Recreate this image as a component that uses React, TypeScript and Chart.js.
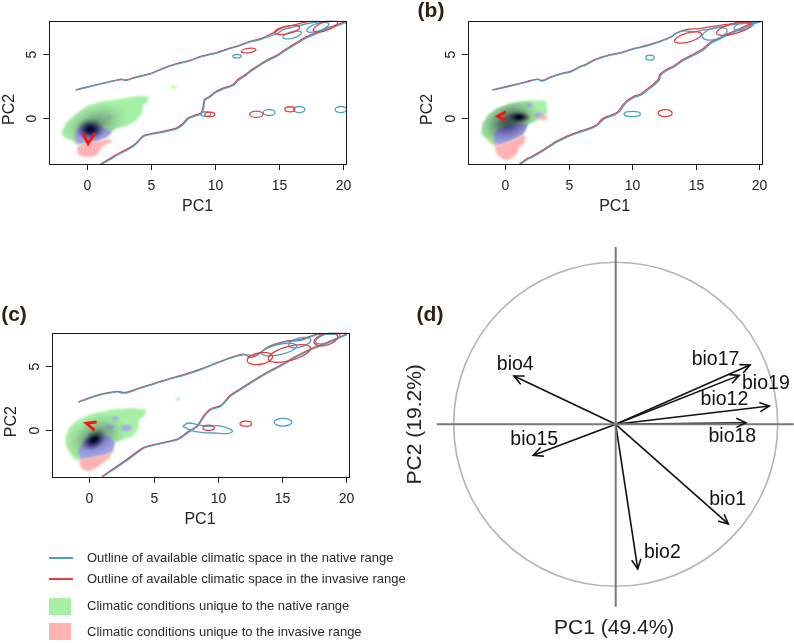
import React, { useEffect, useRef } from "react";
import { Chart, registerables } from "chart.js";

Chart.register(...registerables);

type Pt = [number, number];
// ellipse outline: centre x, centre y, radius x, radius y, tilt (deg)
type Ring = [number, number, number, number, number];
// density shading: centre x, centre y, radius x, radius y, tilt (deg), depth 0..1
type Shade = [number, number, number, number, number, number];
// small patch: centre x, centre y, radius x, radius y
type Spot = [number, number, number, number];

// ---------- shared axes of the niche maps ----------
const PC_TICKS_X = [0, 5, 10, 15, 20];
const PC_TICKS_Y = [0, 5];
const PC1_RANGE: Pt = [-2.95, 20.2];
const PC2_RANGE: Pt = [-3.62, 7.62];

// ---------- (a) ----------
const aNativeUpper: Pt[] = [[-0.89,2.17],[-0.05,2.38],[0.99,2.64],[2.03,2.88],[2.68,3.03],[3.07,2.93],[3.59,3.1],[4.9,3.43],[5.94,3.86],[6.98,4.21],[8.02,4.47],[8.8,4.77],[10.1,5.08],[11.15,5.43],[11.93,5.66],[12.71,5.96],[13.49,6.13],[14.01,6.34],[14.79,6.6],[15.31,6.92],[16.09,7.12],[17.14,7.38],[18.18,7.55],[19.22,7.65]];
const aInvasiveUpper: Pt[] = [[-0.89,2.2],[-0.05,2.41],[0.99,2.67],[2.03,2.9],[2.68,3.0],[3.07,2.97],[3.59,3.14],[4.9,3.46],[5.94,3.9],[6.98,4.25],[8.02,4.5],[8.8,4.8],[10.1,5.12],[11.15,5.47],[11.93,5.7],[12.71,6.0],[13.49,6.2],[14.01,6.42],[14.6,6.7],[15.2,7.05],[16.0,7.25],[17.0,7.5],[18.0,7.64]];
const aNativeLower: Pt[] = [[1.12,-3.66],[1.77,-3.29],[2.29,-2.95],[3.07,-2.56],[3.59,-2.25],[3.98,-1.9],[4.38,-1.47],[5.16,-1.26],[5.94,-1.12],[6.98,-0.86],[7.5,-0.52],[7.89,-0.08],[8.54,0.18],[8.93,0.31],[9.11,0.84],[9.19,1.36],[9.58,1.62],[9.97,1.93],[10.63,2.27],[11.41,2.54],[11.8,2.93],[12.19,3.19],[12.97,3.77],[14.01,4.45],[14.79,4.81],[15.57,5.34],[16.35,5.81],[17.14,6.28],[18.18,6.72],[19.22,7.12],[20.25,7.5]];
const aInvasiveLower: Pt[] = [[1.0,-3.66],[1.7,-3.24],[2.25,-2.9],[3.0,-2.5],[3.55,-2.2],[3.95,-1.85],[4.35,-1.42],[5.1,-1.22],[5.9,-1.07],[6.95,-0.8],[7.45,-0.47],[7.85,-0.02],[8.5,0.24],[8.9,0.38],[9.05,0.9],[9.15,1.42],[9.55,1.68],[9.95,2.0],[10.6,2.33],[11.35,2.6],[11.75,3.0],[12.15,3.26],[12.95,3.84],[14.0,4.52],[14.75,4.88],[15.55,5.41],[16.3,5.88],[17.1,6.35],[18.15,6.8],[19.2,7.2],[20.25,7.58]];
const aNativeRings: Ring[] = [[14.2,0.42,0.46,0.23,0],[16.55,0.65,0.45,0.24,0],[19.8,0.65,0.45,0.24,0],[11.7,4.84,0.33,0.13,0],[9.25,0.3,0.4,0.18,0],[16.0,6.5,0.75,0.25,-15],[18.0,7.1,0.9,0.3,-18]];
const aInvasiveRings: Ring[] = [[13.2,0.28,0.52,0.25,0],[15.83,0.67,0.39,0.2,0],[9.58,0.27,0.39,0.18,0],[12.6,5.28,0.58,0.17,-8],[15.6,6.9,1.0,0.3,-12],[18.6,7.2,1.0,0.35,-20]];
const aUnfilling: Pt[] = [[-2.0,-1.1],[-1.6,-0.3],[-0.83,0.34],[-0.05,0.92],[0.99,1.26],[2.29,1.44],[3.59,1.65],[4.1,1.73],[4.77,1.65],[4.77,1.26],[4.38,1.0],[4.25,0.34],[3.85,-0.18],[3.07,-0.65],[2.29,-0.84],[1.9,-1.1],[1.51,-1.49],[0.5,-1.9],[-0.78,-2.1],[-1.22,-1.75],[-1.88,-1.49]];
const aStability: Pt[] = [[-0.95,-1.1],[-0.5,-0.7],[0.3,-0.55],[1.0,-0.7],[1.5,-0.9],[2.0,-1.05],[1.6,-1.5],[0.8,-1.85],[-0.3,-2.0],[-0.78,-2.05],[-0.95,-1.6]];
const aExpansion: Pt[] = [[-0.78,-2.28],[-0.31,-2.02],[0.73,-1.88],[1.51,-1.7],[2.03,-1.7],[1.77,-1.96],[1.12,-2.28],[0.86,-2.8],[0.47,-3.06],[-0.31,-3.06],[-0.7,-2.85],[-0.78,-2.54]];
const aUnfillingSpots: Spot[] = [[6.75,2.4,0.22,0.1]];
const aStabilitySpots: Spot[] = [[1.75,0.05,0.15,0.08]];
const aShades: Shade[] = [[0.25,-0.9,1.15,0.9,0,1],[0.6,-0.5,2.6,1.5,-20,0.35]];
const aInvasiveCore: Pt[] = [[-0.36,-1.18],[0.08,-2.02],[0.6,-1.18]];

// ---------- (b) ----------
const bNativeUpper: Pt[] = [[-1.0,2.17],[-0.05,2.38],[0.74,2.57],[1.76,2.83],[2.55,3.01],[2.94,2.88],[3.6,3.17],[4.39,3.43],[5.18,3.61],[5.96,4.01],[6.35,4.14],[7.0,4.5],[8.06,4.87],[9.11,5.08],[9.9,5.34],[10.68,5.52],[11.47,5.73],[12.26,5.99],[13.04,6.33],[13.44,6.62],[14.1,6.82],[14.88,6.75],[15.67,6.9],[16.59,7.05],[17.9,7.31],[19.47,7.44],[20.1,7.55]];
const bInvasiveUpper: Pt[] = [[-1.0,2.2],[-0.05,2.42],[0.74,2.6],[1.76,2.87],[2.55,3.04],[2.94,2.93],[3.6,3.21],[4.39,3.47],[5.18,3.66],[5.96,4.05],[6.35,4.2],[7.0,4.55],[8.06,4.9],[9.11,5.12],[9.9,5.38],[10.68,5.57],[11.47,5.78],[12.26,6.03],[13.04,6.36],[13.6,6.7],[14.4,6.95],[15.3,7.0],[16.2,7.15],[17.2,7.3],[18.4,7.45],[19.3,7.5],[20.1,7.58]];
const bNativeLower: Pt[] = [[1.18,-3.66],[1.76,-3.27],[2.28,-3.01],[3.07,-2.54],[3.86,-2.02],[4.38,-1.75],[4.91,-1.49],[5.96,-1.1],[6.75,-0.84],[7.27,-0.58],[7.66,-0.18],[8.06,0.03],[8.58,0.21],[8.98,0.47],[9.37,0.99],[9.63,1.26],[10.16,1.6],[10.68,1.78],[11.21,2.17],[11.73,2.57],[12.13,2.96],[12.26,3.35],[12.78,3.74],[13.31,4.0],[14.09,4.53],[14.88,4.92],[15.67,5.37],[16.19,5.84],[16.72,6.1],[17.5,6.49],[18.56,6.94],[19.34,7.28],[20.13,7.54]];
const bInvasiveLower: Pt[] = [[1.08,-3.66],[1.7,-3.22],[2.22,-2.96],[3.02,-2.49],[3.8,-1.97],[4.33,-1.7],[4.86,-1.44],[5.9,-1.05],[6.7,-0.79],[7.22,-0.53],[7.6,-0.12],[8.0,0.09],[8.52,0.27],[8.92,0.53],[9.3,1.05],[9.56,1.33],[10.1,1.67],[10.62,1.85],[11.15,2.24],[11.67,2.64],[12.06,3.03],[12.2,3.42],[12.72,3.81],[13.25,4.07],[14.03,4.6],[14.82,4.99],[15.6,5.44],[16.13,5.91],[16.66,6.17],[17.44,6.56],[18.5,7.01],[19.28,7.35],[20.13,7.62]];
const bNativeRings: Ring[] = [[11.4,4.72,0.33,0.2,0],[10.0,0.3,0.65,0.2,0],[16.5,6.6,1.0,0.45,-15],[18.8,7.2,0.8,0.3,-15]];
const bInvasiveRings: Ring[] = [[12.6,0.37,0.55,0.27,0],[14.4,6.3,1.1,0.35,-15],[18.0,7.0,1.4,0.4,-15]];
const bUnfilling: Pt[] = [[-1.91,-1.23],[-1.79,-0.44],[-1.39,0.21],[-0.73,0.74],[0.31,1.13],[1.63,1.39],[3.2,1.36],[3.33,0.6],[3.2,0.2],[2.94,-0.05],[2.3,-0.3],[1.89,-0.44],[1.63,-0.83],[1.36,-1.36],[0.57,-1.75],[-0.47,-2.14],[-1.0,-2.14],[-1.65,-1.49]];
const bStability: Pt[] = [[-0.87,-1.23],[-0.47,-0.83],[0.31,-0.57],[1.36,-0.44],[1.75,-0.6],[1.63,-0.9],[1.36,-1.36],[0.57,-1.75],[-0.47,-2.14],[-0.87,-2.0]];
const bExpansion: Pt[] = [[-0.87,-2.0],[-0.47,-2.14],[0.57,-1.75],[1.36,-1.36],[1.63,-1.49],[1.5,-2.01],[1.1,-2.28],[0.97,-2.8],[0.45,-3.19],[0.05,-3.32],[-0.47,-3.06],[-0.73,-2.67]];
const bUnfillingSpots: Spot[] = [];
const bStabilitySpots: Spot[] = [[1.89,1.0,0.25,0.15],[2.68,0.21,0.35,0.2]];
const bExpansionSpots: Spot[] = [[3.0,0.05,0.3,0.2]];
const bShades: Shade[] = [[1.1,0.05,0.95,0.5,0,1],[0.3,-0.3,2.5,1.7,-25,0.65]];
const bInvasiveCore: Pt[] = [[0.05,0.47],[-0.6,0.13],[0.05,-0.23]];

// ---------- (c) ----------
const cNativeUpper: Pt[] = [[-0.86,2.19],[0.0,2.5],[0.91,2.79],[2.2,3.0],[2.6,2.9],[3.0,2.95],[4.03,3.31],[5.3,3.7],[6.6,4.09],[7.3,4.27],[8.7,4.74],[10.0,5.26],[11.3,5.73],[12.1,5.91],[12.9,5.85],[13.9,6.43],[15.2,6.88],[16.5,7.03],[17.8,7.47],[19.0,7.5],[20.1,7.6]];
const cInvasiveUpper: Pt[] = [[-0.86,2.22],[0.0,2.53],[0.91,2.83],[2.2,3.04],[2.6,2.96],[3.0,3.0],[4.03,3.35],[5.3,3.74],[6.6,4.14],[7.3,4.33],[8.7,4.79],[10.0,5.3],[11.3,5.77],[12.0,5.95],[12.6,5.7],[13.2,5.95],[13.9,6.5],[15.2,6.92],[16.5,7.1],[17.8,7.5],[19.0,7.55],[20.1,7.65]];
const cNativeLower: Pt[] = [[1.04,-3.62],[1.95,-3.02],[3.0,-2.29],[3.6,-1.85],[4.29,-1.38],[5.58,-1.04],[6.88,-0.73],[7.66,-0.21],[8.44,0.31],[8.96,1.09],[9.48,1.61],[10.26,1.88],[11.0,2.66],[11.6,3.05],[12.6,3.7],[13.9,4.48],[14.9,5.0],[16.0,5.65],[17.3,6.3],[18.6,6.82],[20.1,7.47]];
const cInvasiveLower: Pt[] = [[0.95,-3.62],[1.9,-2.97],[2.95,-2.24],[3.55,-1.8],[4.25,-1.33],[5.55,-0.99],[6.85,-0.68],[7.62,-0.16],[8.4,0.36],[8.92,1.14],[9.44,1.66],[10.22,1.93],[10.96,2.71],[11.56,3.1],[12.56,3.75],[13.86,4.53],[14.86,5.05],[15.96,5.7],[17.26,6.35],[18.56,6.87],[20.1,7.53]];
const cNativePocket: Pt[] = [[7.27,0.31],[7.66,0.57],[8.44,0.44],[9.22,0.31],[10.0,0.36],[10.78,0.18],[11.17,-0.08],[10.78,-0.26],[9.74,-0.21],[8.7,-0.16],[7.92,0.0],[7.27,0.31]];
const cNativeRings: Ring[] = [[15.1,0.63,0.7,0.3,0],[14.8,6.3,1.4,0.4,-12],[16.4,6.85,0.9,0.35,-15],[18.6,7.2,1.0,0.35,-18]];
const cInvasiveRings: Ring[] = [[12.2,0.52,0.45,0.2,0],[9.3,0.2,0.45,0.2,0],[13.3,5.6,1.0,0.45,-10],[15.6,6.0,1.7,0.55,-15],[18.45,7.1,0.95,0.45,-15]];
const cUnfilling: Pt[] = [[-1.9,-0.6],[-1.6,0.2],[-0.9,0.85],[0.2,1.3],[1.8,1.62],[3.38,1.75],[4.42,1.62],[4.35,1.2],[3.9,0.84],[3.77,0.05],[3.38,-0.47],[2.6,-0.73],[1.95,-0.98],[1.82,-1.77],[0.5,-2.2],[-0.78,-2.3],[-1.1,-2.35],[-1.5,-1.8],[-1.85,-1.2]];
const cStability: Pt[] = [[-0.85,-1.51],[-0.45,-0.8],[0.52,-0.5],[1.56,-0.47],[1.95,-0.98],[1.82,-1.64],[1.3,-1.9],[0.26,-2.08],[-0.65,-2.29],[-0.85,-1.9]];
const cExpansion: Pt[] = [[-0.78,-2.29],[0.26,-2.08],[1.3,-1.9],[1.75,-1.7],[1.56,-2.16],[1.04,-2.55],[0.52,-2.94],[0.0,-3.2],[-0.52,-3.07],[-0.78,-2.68]];
const cUnfillingSpots: Spot[] = [[6.9,2.45,0.22,0.1]];
const cStabilitySpots: Spot[] = [[2.03,0.97,0.25,0.15],[2.9,0.19,0.4,0.25],[1.6,0.25,0.35,0.12]];
const cShades: Shade[] = [[0.35,-0.75,1.05,0.72,-35,1],[0.5,-0.5,2.5,1.6,-25,0.4]];
const cInvasiveCore: Pt[] = [[0.55,0.65],[-0.25,0.55],[0.4,0.0]];

// ---------- (d) correlation circle ----------
const BIO_VARS = ["bio4", "bio17", "bio19", "bio12", "bio18", "bio15", "bio1", "bio2"];
const PC1_LOADING = [-0.628, 0.829, 0.763, 0.948, 0.804, -0.509, 0.695, 0.136];
const PC2_LOADING = [0.298, 0.366, 0.302, 0.113, 0.01, -0.191, -0.615, -0.893];
const LABEL_PC1 = [-0.62, 0.616, 0.927, 0.671, 0.72, -0.503, 0.691, 0.288];
const LABEL_PC2 = [0.366, 0.398, 0.253, 0.155, -0.073, -0.092, -0.464, -0.793];
const PC1_VAR = 49.4;
const PC2_VAR = 19.2;

// ---------- styling ----------
const FONT = '"Liberation Sans", Arial, Helvetica, sans-serif';
const NATIVE_COL = "#4b9fca";
const INVASIVE_COL = "#e6403f";
const UNFILL_COL = "#a6f0a6";
const STABLE_COL = "#a9a9f0";
const EXPAND_COL = "#ffb2b2";
const LETTER_COL = "#2e2014";

interface NicheSpec {
  native: Pt[][];
  invasive: Pt[][];
  nativeRings: Ring[];
  invasiveRings: Ring[];
  unfilling: Pt[];
  stability: Pt[];
  expansion: Pt[];
  unfillingSpots: Spot[];
  stabilitySpots: Spot[];
  expansionSpots: Spot[];
  shades: Shade[];
  invasiveCore: Pt[];
}

interface PanelBox {
  x: number;
  y: number;
  w: number;
  h: number;
  plot: [number, number, number, number];
}

const xy = (pts: Pt[]) => pts.map(([x, y]) => ({ x, y }));

function shadeColor(k: number) {
  const r = Math.round(255 - 255 * k);
  const b = Math.round(255 - 195 * k);
  return `rgb(${r},${r},${b})`;
}

function nicheSurfacePlugin(spec: NicheSpec) {
  return {
    id: "nicheSurface",
    beforeDatasetsDraw(chart: any) {
      const { ctx, chartArea: a } = chart;
      const xs = chart.scales.x;
      const ys = chart.scales.y;
      const px = (v: number) => xs.getPixelForValue(v);
      const py = (v: number) => ys.getPixelForValue(v);
      const trace = (pts: Pt[]) => {
        ctx.beginPath();
        pts.forEach(([u, v], i) => (i ? ctx.lineTo(px(u), py(v)) : ctx.moveTo(px(u), py(v))));
        ctx.closePath();
      };
      const patch = ([cx, cy, rx, ry]: Spot) => {
        ctx.beginPath();
        ctx.ellipse(px(cx), py(cy), Math.abs(px(cx + rx) - px(cx)), Math.abs(py(cy + ry) - py(cy)), 0, 0, Math.PI * 2);
        ctx.fill();
      };
      ctx.save();
      ctx.beginPath();
      ctx.rect(a.left, a.top, a.right - a.left, a.bottom - a.top);
      ctx.clip();
      ctx.filter = "blur(0.8px)";
      ctx.fillStyle = UNFILL_COL;
      trace(spec.unfilling);
      ctx.fill();
      spec.unfillingSpots.forEach(patch);
      ctx.fillStyle = STABLE_COL;
      trace(spec.stability);
      ctx.fill();
      spec.stabilitySpots.forEach(patch);
      ctx.filter = "none";

      // occurrence density darkens the occupied surface
      ctx.save();
      trace(spec.unfilling);
      ctx.clip();
      ctx.globalCompositeOperation = "multiply";
      spec.shades.forEach(([cx, cy, rx, ry, tilt, depth]) => {
        const rxp = Math.abs(px(cx + rx) - px(cx));
        const ryp = Math.abs(py(cy + ry) - py(cy));
        ctx.save();
        ctx.translate(px(cx), py(cy));
        ctx.rotate((tilt * Math.PI) / 180);
        ctx.scale(1, ryp / rxp);
        const g = ctx.createRadialGradient(0, 0, 0, 0, 0, rxp);
        g.addColorStop(0, shadeColor(depth));
        g.addColorStop(0.25, shadeColor(depth * 0.85));
        g.addColorStop(0.5, shadeColor(depth * 0.5));
        g.addColorStop(0.75, shadeColor(depth * 0.2));
        g.addColorStop(1, shadeColor(0));
        ctx.fillStyle = g;
        ctx.fillRect(-rxp, -rxp, 2 * rxp, 2 * rxp);
        ctx.restore();
      });
      ctx.restore();

      ctx.filter = "blur(0.8px)";
      ctx.fillStyle = EXPAND_COL;
      trace(spec.expansion);
      ctx.fill();
      spec.expansionSpots.forEach(patch);
      ctx.restore();
    },
    afterDatasetsDraw(chart: any) {
      const { ctx, chartArea: a } = chart;
      const xs = chart.scales.x;
      const ys = chart.scales.y;
      const px = (v: number) => xs.getPixelForValue(v);
      const py = (v: number) => ys.getPixelForValue(v);
      ctx.save();
      ctx.beginPath();
      ctx.rect(a.left, a.top, a.right - a.left, a.bottom - a.top);
      ctx.clip();
      ctx.lineWidth = 1.3;
      const ring = (color: string) => ([cx, cy, rx, ry, tilt]: Ring) => {
        ctx.strokeStyle = color;
        ctx.beginPath();
        ctx.ellipse(
          px(cx),
          py(cy),
          Math.abs(px(cx + rx) - px(cx)),
          Math.abs(py(cy + ry) - py(cy)),
          (tilt * Math.PI) / 180,
          0,
          Math.PI * 2
        );
        ctx.stroke();
      };
      spec.nativeRings.forEach(ring(NATIVE_COL));
      spec.invasiveRings.forEach(ring(INVASIVE_COL));
      ctx.restore();
    },
  };
}

const nicheFramePlugin = {
  id: "nicheFrame",
  afterDraw(chart: any) {
    const { ctx, chartArea: a } = chart;
    const xs = chart.scales.x;
    const ys = chart.scales.y;
    ctx.save();
    ctx.strokeStyle = "#1a1a1a";
    ctx.lineWidth = 1;
    ctx.strokeRect(Math.round(a.left) + 0.5, Math.round(a.top) + 0.5, Math.round(a.right - a.left), Math.round(a.bottom - a.top));
    ctx.fillStyle = "#222";
    ctx.font = `14px ${FONT}`;
    ctx.textAlign = "center";
    ctx.textBaseline = "middle";
    PC_TICKS_X.forEach((v) => {
      const x = Math.round(xs.getPixelForValue(v)) + 0.5;
      ctx.beginPath();
      ctx.moveTo(x, a.bottom);
      ctx.lineTo(x, a.bottom + 6);
      ctx.stroke();
      ctx.fillText(String(v), x, a.bottom + 22);
    });
    PC_TICKS_Y.forEach((v) => {
      const y = Math.round(ys.getPixelForValue(v)) + 0.5;
      ctx.beginPath();
      ctx.moveTo(a.left - 6, y);
      ctx.lineTo(a.left, y);
      ctx.stroke();
      ctx.save();
      ctx.translate(a.left - 17, y);
      ctx.rotate(-Math.PI / 2);
      ctx.fillText(String(v), 0, 0);
      ctx.restore();
    });
    ctx.font = `16px ${FONT}`;
    ctx.fillText("PC1", (a.left + a.right) / 2, a.bottom + 43);
    ctx.save();
    ctx.translate(a.left - 40, (a.top + a.bottom) / 2 + 17);
    ctx.rotate(-Math.PI / 2);
    ctx.fillText("PC2", 0, 0);
    ctx.restore();
    ctx.restore();
  },
};

function NicheMap({ spec, box }: { spec: NicheSpec; box: PanelBox }) {
  const ref = useRef<HTMLCanvasElement>(null);
  useEffect(() => {
    const [l, t, r, b] = box.plot;
    const line = (pts: Pt[], color: string) => ({
      data: xy(pts),
      showLine: true,
      borderColor: color,
      borderWidth: 1.3,
      pointRadius: 0,
      tension: 0.3,
    });
    const chart = new Chart(ref.current as HTMLCanvasElement, {
      type: "scatter",
      data: {
        datasets: [
          ...spec.native.map((p) => line(p, NATIVE_COL)),
          ...spec.invasive.map((p) => line(p, INVASIVE_COL)),
          {
            data: xy(spec.invasiveCore),
            showLine: true,
            borderColor: "#ff1010",
            borderWidth: 2.8,
            pointRadius: 0,
            tension: 0,
          },
        ],
      },
      options: {
        animation: false,
        responsive: false,
        devicePixelRatio: 1,
        events: [],
        layout: {
          padding: { left: l - box.x, top: t - box.y, right: box.x + box.w - r, bottom: box.y + box.h - b },
        },
        scales: {
          x: { type: "linear", min: PC1_RANGE[0], max: PC1_RANGE[1], display: false },
          y: { type: "linear", min: PC2_RANGE[0], max: PC2_RANGE[1], display: false },
        },
        plugins: { legend: { display: false }, tooltip: { enabled: false } },
      } as any,
      plugins: [nicheSurfacePlugin(spec), nicheFramePlugin],
    });
    return () => chart.destroy();
  }, []);
  return (
    <canvas
      ref={ref}
      width={box.w}
      height={box.h}
      style={{ position: "absolute", left: box.x, top: box.y, width: box.w, height: box.h }}
    />
  );
}

// correlation circle geometry on the page
const D_BOX = { x: 395, y: 240, w: 399, h: 403 };
const D_CENTER: Pt = [615.7 - 395, 424.3 - 240];
const D_RADIUS = 162;

const circlePlugin = {
  id: "correlationCircle",
  beforeDatasetsDraw(chart: any) {
    const { ctx } = chart;
    const xs = chart.scales.x;
    const ys = chart.scales.y;
    const cx = xs.getPixelForValue(0);
    const cy = ys.getPixelForValue(0);
    const r = xs.getPixelForValue(1) - cx;
    ctx.save();
    ctx.strokeStyle = "#b4b4b4";
    ctx.lineWidth = 1.6;
    ctx.beginPath();
    ctx.arc(cx, cy, r, 0, Math.PI * 2);
    ctx.stroke();
    ctx.restore();
  },
  afterDatasetsDraw(chart: any) {
    const { ctx } = chart;
    const xs = chart.scales.x;
    const ys = chart.scales.y;
    const ox = xs.getPixelForValue(0);
    const oy = ys.getPixelForValue(0);
    ctx.save();
    ctx.strokeStyle = "#111";
    ctx.lineWidth = 1.6;
    ctx.lineCap = "round";
    BIO_VARS.forEach((_, i) => {
      const tx = xs.getPixelForValue(PC1_LOADING[i]);
      const ty = ys.getPixelForValue(PC2_LOADING[i]);
      const ang = Math.atan2(ty - oy, tx - ox);
      const head = 10;
      ctx.beginPath();
      ctx.moveTo(tx - head * Math.cos(ang - 0.45), ty - head * Math.sin(ang - 0.45));
      ctx.lineTo(tx, ty);
      ctx.lineTo(tx - head * Math.cos(ang + 0.45), ty - head * Math.sin(ang + 0.45));
      ctx.stroke();
    });
    ctx.fillStyle = "#111";
    ctx.font = `19.5px ${FONT}`;
    ctx.textAlign = "center";
    ctx.textBaseline = "middle";
    BIO_VARS.forEach((name, i) => {
      ctx.fillText(name, xs.getPixelForValue(LABEL_PC1[i]), ys.getPixelForValue(LABEL_PC2[i]));
    });
    ctx.fillStyle = "#222";
    ctx.font = `21px ${FONT}`;
    ctx.fillText(`PC1 (${PC1_VAR}%)`, ox - 1.5, oy + 203.5);
    ctx.save();
    ctx.translate(ox - 200.5, oy);
    ctx.rotate(-Math.PI / 2);
    ctx.fillText(`PC2 (${PC2_VAR}%)`, 0, 0);
    ctx.restore();
    ctx.restore();
  },
};

function CorrelationCircle() {
  const ref = useRef<HTMLCanvasElement>(null);
  useEffect(() => {
    const [cx, cy] = D_CENTER;
    const axis = (pts: Pt[]) => ({
      data: xy(pts),
      showLine: true,
      borderColor: "#7a7a7a",
      borderWidth: 2,
      pointRadius: 0,
    });
    const chart = new Chart(ref.current as HTMLCanvasElement, {
      type: "scatter",
      data: {
        datasets: [
          axis([[-1.105, 0], [1.1, 0]]),
          axis([[0, 1.095], [0, -1.126]]),
          ...BIO_VARS.map((_, i) => ({
            data: [
              { x: 0, y: 0 },
              { x: PC1_LOADING[i], y: PC2_LOADING[i] },
            ],
            showLine: true,
            borderColor: "#111",
            borderWidth: 1.6,
            pointRadius: 0,
          })),
        ],
      },
      options: {
        animation: false,
        responsive: false,
        devicePixelRatio: 1,
        events: [],
        layout: { padding: 0 },
        scales: {
          x: { type: "linear", min: -cx / D_RADIUS, max: (D_BOX.w - cx) / D_RADIUS, display: false },
          y: { type: "linear", min: -(D_BOX.h - cy) / D_RADIUS, max: cy / D_RADIUS, display: false },
        },
        plugins: { legend: { display: false }, tooltip: { enabled: false } },
      } as any,
      plugins: [circlePlugin],
    });
    return () => chart.destroy();
  }, []);
  return (
    <canvas
      ref={ref}
      width={D_BOX.w}
      height={D_BOX.h}
      style={{ position: "absolute", left: D_BOX.x, top: D_BOX.y, width: D_BOX.w, height: D_BOX.h }}
    />
  );
}

const specA: NicheSpec = {
  native: [aNativeUpper, aNativeLower],
  invasive: [aInvasiveUpper, aInvasiveLower],
  nativeRings: aNativeRings,
  invasiveRings: aInvasiveRings,
  unfilling: aUnfilling,
  stability: aStability,
  expansion: aExpansion,
  unfillingSpots: aUnfillingSpots,
  stabilitySpots: aStabilitySpots,
  expansionSpots: [],
  shades: aShades,
  invasiveCore: aInvasiveCore,
};

const specB: NicheSpec = {
  native: [bNativeUpper, bNativeLower],
  invasive: [bInvasiveUpper, bInvasiveLower],
  nativeRings: bNativeRings,
  invasiveRings: bInvasiveRings,
  unfilling: bUnfilling,
  stability: bStability,
  expansion: bExpansion,
  unfillingSpots: bUnfillingSpots,
  stabilitySpots: bStabilitySpots,
  expansionSpots: bExpansionSpots,
  shades: bShades,
  invasiveCore: bInvasiveCore,
};

const specC: NicheSpec = {
  native: [cNativeUpper, cNativeLower, cNativePocket],
  invasive: [cInvasiveUpper, cInvasiveLower],
  nativeRings: cNativeRings,
  invasiveRings: cInvasiveRings,
  unfilling: cUnfilling,
  stability: cStability,
  expansion: cExpansion,
  unfillingSpots: cUnfillingSpots,
  stabilitySpots: cStabilitySpots,
  expansionSpots: [],
  shades: cShades,
  invasiveCore: cInvasiveCore,
};

const LEGEND_ITEMS = [
  { kind: "line", color: NATIVE_COL, text: "Outline of available climatic space in the native range", y: 558 },
  { kind: "line", color: INVASIVE_COL, text: "Outline of available climatic space in the invasive range", y: 579 },
  { kind: "box", color: UNFILL_COL, text: "Climatic conditions unique to the native range", y: 606 },
  { kind: "box", color: EXPAND_COL, text: "Climatic conditions unique to the invasive range", y: 631.5 },
];

function PanelLetter({ text, x, y }: { text: string; x: number; y: number }) {
  return (
    <div
      style={{
        position: "absolute",
        left: x,
        top: y,
        transform: "translate(-50%, -50%)",
        font: `bold 21px ${FONT}`,
        lineHeight: "24px",
        color: LETTER_COL,
        whiteSpace: "nowrap",
      }}
    >
      {text}
    </div>
  );
}

export default function App() {
  return (
    <div
      style={{
        position: "fixed",
        left: 0,
        top: 0,
        width: 794,
        height: 643,
        background: "#fff",
        overflow: "hidden",
        fontFamily: FONT,
      }}
    >
      <NicheMap spec={specA} box={{ x: 0, y: 0, w: 380, h: 218, plot: [49.3, 20.7, 346, 164] }} />
      <NicheMap spec={specB} box={{ x: 395, y: 0, w: 399, h: 218, plot: [467.7, 20.7, 761.7, 164] }} />
      <NicheMap spec={specC} box={{ x: 0, y: 325, w: 380, h: 205, plot: [51.7, 332.7, 348.3, 476.7] }} />
      <CorrelationCircle />
      <PanelLetter text="(b)" x={431} y={9.5} />
      <PanelLetter text="(c)" x={14} y={313.5} />
      <PanelLetter text="(d)" x={430} y={313.5} />
      {LEGEND_ITEMS.map((it) => (
        <React.Fragment key={it.text}>
          {it.kind === "line" ? (
            <div style={{ position: "absolute", left: 49, top: it.y - 1, width: 24, height: 2, background: it.color }} />
          ) : (
            <div style={{ position: "absolute", left: 49, top: it.y - 8.5, width: 22, height: 17, background: it.color }} />
          )}
          <div
            style={{
              position: "absolute",
              left: 87,
              top: it.y - 8,
              fontSize: 13,
              lineHeight: "16px",
              color: "#2a2a2a",
              whiteSpace: "nowrap",
            }}
          >
            {it.text}
          </div>
        </React.Fragment>
      ))}
    </div>
  );
}
